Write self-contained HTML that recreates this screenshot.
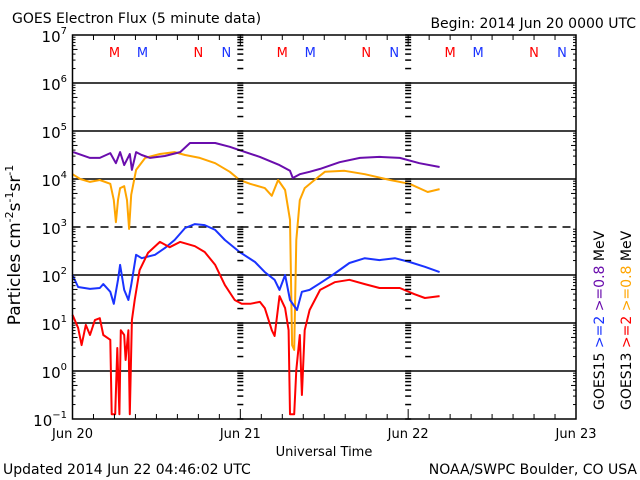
<!DOCTYPE html>
<html><head><meta charset="utf-8"><style>
html,body{margin:0;padding:0;background:#fff;}
svg{display:block;font-family:"DejaVu Sans","Liberation Sans",sans-serif;}
</style></head><body>
<svg id="chart" width="640" height="480" viewBox="0 0 640 480" xmlns="http://www.w3.org/2000/svg">
<rect width="640" height="480" fill="#fff"/>
<text x="12" y="23" font-size="14">GOES Electron Flux (5 minute data)</text>
<text x="636" y="28" font-size="14" text-anchor="end">Begin: 2014 Jun 20 0000 UTC</text>
<text x="3" y="474" font-size="14">Updated 2014 Jun 22 04:46:02 UTC</text>
<text x="637" y="474" font-size="14" text-anchor="end">NOAA/SWPC Boulder, CO USA</text>
<text x="324" y="456" font-size="13" text-anchor="middle">Universal Time</text>
<text transform="translate(20,245) rotate(-90)" font-size="17" text-anchor="middle">Particles cm<tspan font-size="11" dy="-7">-2</tspan><tspan dy="7">s</tspan><tspan font-size="11" dy="-7">-1</tspan><tspan dy="7">sr</tspan><tspan font-size="11" dy="-7">-1</tspan></text>
<g id="grid"></g>
<g id="series"></g>
<g id="axes"></g>
<g font-size="14">
<text transform="translate(604,410) rotate(-90)"><tspan fill="#000">GOES15 </tspan><tspan fill="#1a33ff">&gt;=2 </tspan><tspan fill="#6a0dad">&gt;=0.8 </tspan><tspan fill="#000">MeV</tspan></text>
<text transform="translate(631,410) rotate(-90)"><tspan fill="#000">GOES13 </tspan><tspan fill="#ff0000">&gt;=2 </tspan><tspan fill="#ffa500">&gt;=0.8 </tspan><tspan fill="#000">MeV</tspan></text>
</g>
</svg>
<script>
const dayLabels = ["Jun 20","Jun 21","Jun 22","Jun 23"];
const yTickExps = [-1,0,1,2,3,4,5,6,7];
const markerLetters = ["M","M","N","N","M","M","N","N","M","M","N","N"];
const markerHours = [6,10,18,22,30,34,42,46,54,58,66,70];
const markerColors = ["#ff0000","#1a33ff","#ff0000","#1a33ff","#ff0000","#1a33ff","#ff0000","#1a33ff","#ff0000","#1a33ff","#ff0000","#1a33ff"];
// series: hours since Jun 20 00:00, log10 flux
const purpleHours = [0.1,2.5,3.9,5.4,6.2,6.8,7.4,8.2,8.5,9.1,9.9,11.1,13.2,15.4,16.8,18.2,20.4,22.5,23.9,26.8,29.6,31.1,31.5,32.5,33.9,35.4,38.2,41.1,43.9,46.8,49.6,52.5];
const purpleLog = [4.56,4.44,4.44,4.54,4.33,4.56,4.29,4.52,4.19,4.56,4.50,4.44,4.48,4.56,4.75,4.75,4.75,4.67,4.60,4.46,4.29,4.17,4.02,4.10,4.15,4.21,4.35,4.44,4.46,4.44,4.33,4.25];
const orangeHours = [0,1.1,2.5,3.9,5.4,5.9,6.2,6.5,6.8,7.4,7.8,8.1,8.4,9.1,10.4,12.5,14.6,16.1,18.2,20.4,22.5,23.9,25.4,27.5,28.5,29.4,30.4,31.1,31.4,31.7,32.0,32.5,33.2,34.6,36.1,38.9,41.8,45.4,48.2,50.8,52.5];
const orangeLog = [4.10,4.0,3.94,3.98,3.90,3.56,3.10,3.56,3.81,3.85,3.56,2.96,3.67,4.19,4.44,4.52,4.56,4.50,4.44,4.33,4.15,3.98,3.90,3.81,3.65,3.98,3.77,3.15,0.54,0.44,2.73,3.56,3.81,3.98,4.15,4.17,4.10,3.98,3.90,3.73,3.79];
const blueHours = [0,0.8,2.5,3.9,4.4,5.4,5.9,6.5,6.8,7.4,8.0,8.4,9.1,9.9,11.8,13.2,14.6,16.1,17.5,18.9,20.4,21.8,23.9,26.1,27.5,28.9,29.6,30.4,31.1,32.1,32.8,33.9,35.4,37.2,39.6,41.8,43.9,46.1,48.2,50.4,52.5];
const blueLog = [2.0,1.75,1.71,1.73,1.81,1.65,1.40,1.90,2.21,1.69,1.48,1.79,2.42,2.35,2.42,2.56,2.73,2.98,3.06,3.04,2.94,2.73,2.48,2.27,2.06,1.90,1.69,2.0,1.48,1.27,1.65,1.69,1.83,2.0,2.25,2.35,2.31,2.35,2.27,2.17,2.06];
const redHours = [0,0.8,1.3,1.9,2.5,3.2,3.9,4.4,5.4,5.6,6.1,6.4,6.7,6.9,7.4,7.6,8.0,8.2,8.5,8.9,9.6,10.8,12.5,13.9,15.4,17.5,18.9,20.4,21.8,23.2,24.2,25.4,26.8,27.5,28.5,28.9,29.6,30.4,30.9,31.1,31.7,32.0,32.5,32.8,33.2,33.9,35.4,37.5,39.6,41.8,43.9,46.8,48.9,50.4,52.5];
const redLog = [1.17,0.90,0.54,0.96,0.75,1.06,1.10,0.75,0.65,-0.9,-0.9,0.48,-0.9,0.85,0.75,0.23,0.85,-0.9,1.06,1.48,2.1,2.46,2.69,2.58,2.69,2.60,2.48,2.21,1.79,1.48,1.40,1.40,1.44,1.31,0.85,0.73,1.56,1.31,0.85,-0.9,-0.9,0.02,0.75,-0.5,0.85,1.27,1.69,1.85,1.90,1.81,1.73,1.73,1.60,1.52,1.56];

const NS="http://www.w3.org/2000/svg";
const X0=72.5, X1=576, Y0=35, Y1=419;
function xScale(h){return X0+(X1-X0)*h/72;}
function yScale(l){return Y1-(Y1-Y0)*(l+1)/8;}
function mk(tag,attrs,parent){const e=document.createElementNS(NS,tag);for(const k in attrs)e.setAttribute(k,attrs[k]);parent.appendChild(e);return e;}
const grid=document.getElementById('grid'), axes=document.getElementById('axes'), series=document.getElementById('series');

yTickExps.forEach(e=>{
  const y=yScale(e);
  if(e>-1&&e<7){
    const l=mk('line',{x1:X0,x2:X1,y1:y,y2:y,stroke:'#000','stroke-width':1.5},grid);
    if(e===3) l.setAttribute('stroke-dasharray','8,6');
    
    
  }
  const t=mk('text',{x:67,y:y+7,'font-size':15,'text-anchor':'end'},axes);
  
  
  t.innerHTML='10<tspan font-size="10" dy="-8">'+(e<0?'−1':e)+'</tspan>';
  if(e<7){
    for(let m=2;m<=9;m++){
      const ym=yScale(e+Math.log10(m));
      const len=m===5?5:3;
      [[X0,X0+len],[X1-len,X1]].forEach(p=>mk('line',{x1:p[0],x2:p[1],y1:ym,y2:ym,stroke:'#000','stroke-width':1},axes));
      [xScale(24),xScale(48)].forEach(xd=>mk('line',{x1:xd-3,x2:xd+3,y1:ym,y2:ym,stroke:'#000','stroke-width':1.5},axes));
    }
  }
  [xScale(24),xScale(48)].forEach(xd=>mk('line',{x1:xd-3,x2:xd+3,y1:y,y2:y,stroke:'#000','stroke-width':1.5},axes));
});

for(let h=0;h<=72;h+=3){
  const x=xScale(h);
  const len=h%24===0?10:5;
  mk('line',{x1:x,x2:x,y1:Y1,y2:Y1-len,stroke:'#000','stroke-width':1},axes);
  mk('line',{x1:x,x2:x,y1:Y0,y2:Y0+len,stroke:'#000','stroke-width':1},axes);
}
dayLabels.forEach((d,i)=>{
  const t=mk('text',{x:xScale(i*24),y:438,'font-size':13,'text-anchor':'middle'},axes);
  
  
  t.textContent=d;
});
const frame=mk('rect',{x:X0,y:Y0,width:X1-X0,height:Y1-Y0,fill:'none',stroke:'#000','stroke-width':1.5},axes);



markerLetters.forEach((m,i)=>{
  const t=mk('text',{x:xScale(markerHours[i]),y:57,'font-size':13,'text-anchor':'middle',fill:markerColors[i]},axes);
  
  
  t.textContent=m;
});

function drawSeries(hs,ls,color,name,w){
  const pts=hs.map((h,i)=>xScale(h).toFixed(1)+','+yScale(ls[i]).toFixed(1)).join(' ');
  const p=mk('polyline',{points:pts,fill:'none',stroke:color,'stroke-width':w,'stroke-linejoin':'round'},series);
  
  
}
drawSeries(orangeHours,orangeLog,'#ffa500','goes13-0.8mev-line',2);
drawSeries(purpleHours,purpleLog,'#6a0dad','goes15-0.8mev-line',2);
drawSeries(blueHours,blueLog,'#1a33ff','goes15-2mev-line',2);
drawSeries(redHours,redLog,'#ff0000','goes13-2mev-line',2);
</script>
</body></html>
